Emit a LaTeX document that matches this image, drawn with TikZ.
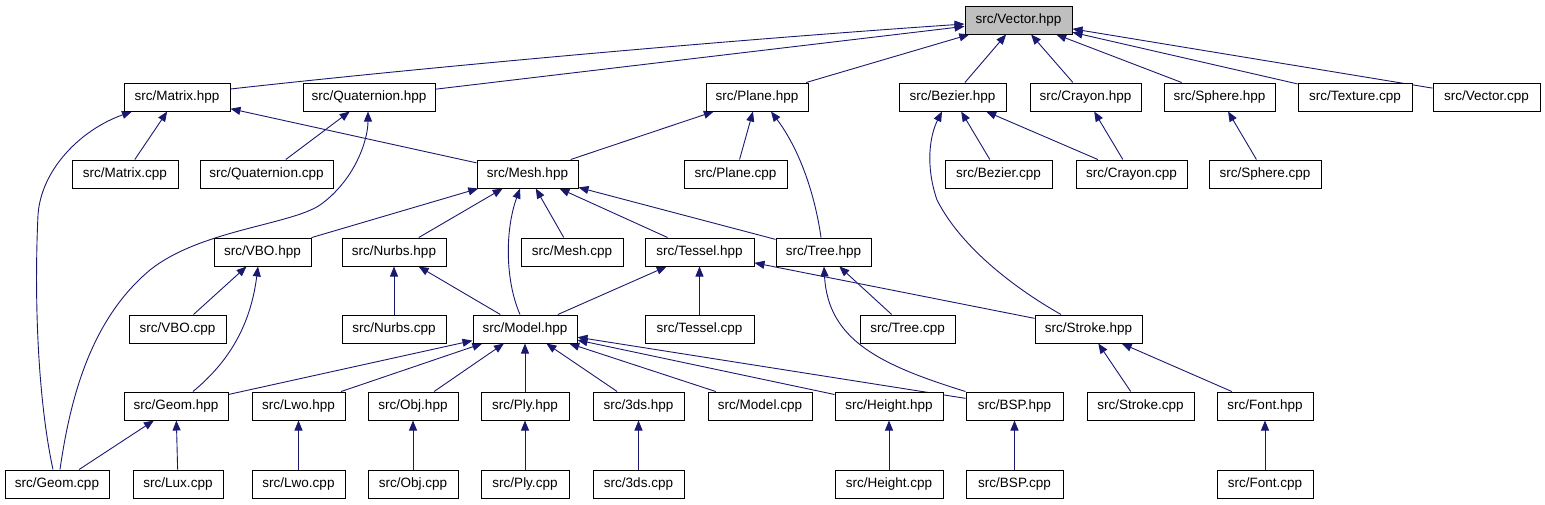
\documentclass[tikz,border=0pt]{standalone}
\usepackage{fontspec}
\setmainfont{Liberation Sans}
\usetikzlibrary{arrows.meta,backgrounds}
\definecolor{edgeblue}{HTML}{191970}
\definecolor{nodegray}{HTML}{BFBFBF}
\begin{document}
\begin{tikzpicture}[x=1pt,y=-1pt,
  box/.style={draw=black, line width=1pt, minimum height=28pt, inner sep=0pt, fill=white,
    font=\fontsize{13.5}{16}\selectfont},
  dep/.style={draw=edgeblue, line width=0.9pt, {Triangle[length=10pt,width=8pt]}-}]
\useasboundingbox (0,0) rectangle (1545,504);
% row 0
\node[box, fill=nodegray, minimum width=107pt] (vechpp) at (1018.5,20) {src/Vector.hpp};
% row 1
\node[box, minimum width=106pt] (matrixhpp) at (177,97) {src/Matrix.hpp};
\node[box, minimum width=132pt] (quathpp) at (369,97) {src/Quaternion.hpp};
\node[box, minimum width=102pt] (planehpp) at (757,97) {src/Plane.hpp};
\node[box, minimum width=107pt] (bezierhpp) at (952.5,97) {src/Bezier.hpp};
\node[box, minimum width=111pt] (crayonhpp) at (1085.5,97) {src/Crayon.hpp};
\node[box, minimum width=111pt] (spherehpp) at (1219.5,97) {src/Sphere.hpp};
\node[box, minimum width=114pt] (texturecpp) at (1355,97) {src/Texture.cpp};
\node[box, minimum width=107pt] (vectorcpp) at (1486.5,97) {src/Vector.cpp};
% row 2
\node[box, minimum width=106pt] (matrixcpp) at (125,174) {src/Matrix.cpp};
\node[box, minimum width=133pt] (quatcpp) at (266.5,174) {src/Quaternion.cpp};
\node[box, minimum width=101pt] (meshhpp) at (527.5,174) {src/Mesh.hpp};
\node[box, minimum width=103pt] (planecpp) at (735.5,174) {src/Plane.cpp};
\node[box, minimum width=107pt] (beziercpp) at (998.5,174) {src/Bezier.cpp};
\node[box, minimum width=111pt] (crayoncpp) at (1131.5,174) {src/Crayon.cpp};
\node[box, minimum width=112pt] (spherecpp) at (1265,174) {src/Sphere.cpp};
% row 3
\node[box, minimum width=97pt] (vbohpp) at (262.5,252) {src/VBO.hpp};
\node[box, minimum width=104pt] (nurbshpp) at (394,252) {src/Nurbs.hpp};
\node[box, minimum width=102pt] (meshcpp) at (572,252) {src/Mesh.cpp};
\node[box, minimum width=109pt] (tesselhpp) at (699.5,252) {src/Tessel.hpp};
\node[box, minimum width=95pt] (treehpp) at (823.5,252) {src/Tree.hpp};
% row 4
\node[box, minimum width=97pt] (vbocpp) at (177.5,329) {src/VBO.cpp};
\node[box, minimum width=104pt] (nurbscpp) at (394,329) {src/Nurbs.cpp};
\node[box, minimum width=104pt] (modelhpp) at (525,329) {src/Model.hpp};
\node[box, minimum width=109pt] (tesselcpp) at (699.5,329) {src/Tessel.cpp};
\node[box, minimum width=95pt] (treecpp) at (907.5,329) {src/Tree.cpp};
\node[box, minimum width=107pt] (strokehpp) at (1088.5,329) {src/Stroke.hpp};
% row 5
\node[box, minimum width=104pt] (geomhpp) at (176,406) {src/Geom.hpp};
\node[box, minimum width=93pt] (lwohpp) at (298.5,406) {src/Lwo.hpp};
\node[box, minimum width=90pt] (objhpp) at (413,406) {src/Obj.hpp};
\node[box, minimum width=88pt] (plyhpp) at (525,406) {src/Ply.hpp};
\node[box, minimum width=91pt] (tdshpp) at (638.5,406) {src/3ds.hpp};
\node[box, minimum width=104pt] (modelcpp) at (760,406) {src/Model.cpp};
\node[box, minimum width=108pt] (heighthpp) at (889,406) {src/Height.hpp};
\node[box, minimum width=97pt] (bsphpp) at (1014.5,406) {src/BSP.hpp};
\node[box, minimum width=107pt] (strokecpp) at (1140.5,406) {src/Stroke.cpp};
\node[box, minimum width=96pt] (fonthpp) at (1265,406) {src/Font.hpp};
% row 6
\node[box, minimum width=104pt] (geomcpp) at (57,484) {src/Geom.cpp};
\node[box, minimum width=90pt] (luxcpp) at (178,484) {src/Lux.cpp};
\node[box, minimum width=93pt] (lwocpp) at (298.5,484) {src/Lwo.cpp};
\node[box, minimum width=90pt] (objcpp) at (413,484) {src/Obj.cpp};
\node[box, minimum width=88pt] (plycpp) at (525,484) {src/Ply.cpp};
\node[box, minimum width=91pt] (tdscpp) at (638.5,484) {src/3ds.cpp};
\node[box, minimum width=108pt] (heightcpp) at (889,484) {src/Height.cpp};
\node[box, minimum width=97pt] (bspcpp) at (1014.5,484) {src/BSP.cpp};
\node[box, minimum width=96pt] (fontcpp) at (1265,484) {src/Font.cpp};

\begin{scope}[on background layer]
% into Vector.hpp
\draw[dep] ([yshift=-4pt]vechpp.west) .. controls (700,42) and (400,70) .. ([yshift=8pt]matrixhpp.east);
\draw[dep] (vechpp) -- (quathpp);
\draw[dep] (vechpp) -- (planehpp);
\draw[dep] (vechpp) -- (bezierhpp);
\draw[dep] (vechpp) -- (crayonhpp);
\draw[dep] (vechpp) -- (spherehpp);
\draw[dep] (vechpp) -- (texturecpp);
\draw[dep] (vechpp) -- (vectorcpp);
% into Matrix.hpp
\draw[dep] (matrixhpp) -- (matrixcpp);
\draw[dep] (matrixhpp) -- (meshhpp);
\draw[dep] ([xshift=-45pt]matrixhpp.south) .. controls (80,130) and (41,170) .. (38,215)
  .. controls (34,300) and (38,400) .. ([xshift=-4pt]geomcpp.north);
% into Quaternion.hpp
\draw[dep] (quathpp) -- (quatcpp);
\draw[dep] ([xshift=-1pt]quathpp.south) .. controls (368,140) and (355,180) .. (320,205)
  .. controls (290,225) and (200,230) .. (150,270)
  .. controls (90,320) and (70,400) .. ([xshift=3pt]geomcpp.north);
% into Plane.hpp
\draw[dep] (planehpp) -- (meshhpp);
\draw[dep] (planehpp) -- (planecpp);
\draw[dep] ([xshift=14pt]planehpp.south) .. controls (800,150) and (815,195) .. ([xshift=-2.5pt]treehpp.north);
% into Bezier.hpp
\draw[dep] (bezierhpp) -- (beziercpp);
\draw[dep] (bezierhpp) -- (crayoncpp);
\draw[dep] ([xshift=-10.5pt]bezierhpp.south) .. controls (930,135) and (925,165) .. (937,200)
  .. controls (965,255) and (1030,297) .. ([xshift=-27.5pt]strokehpp.north);
% Crayon, Sphere
\draw[dep] (crayonhpp) -- (crayoncpp);
\draw[dep] (spherehpp) -- (spherecpp);
% into Mesh.hpp
\draw[dep] (meshhpp) -- (vbohpp);
\draw[dep] (meshhpp) -- (nurbshpp);
\draw[dep] ([xshift=-7.5pt]meshhpp.south) .. controls (505,230) and (505,280) .. ([xshift=-5pt]modelhpp.north);
\draw[dep] (meshhpp) -- (meshcpp);
\draw[dep] (meshhpp) -- (tesselhpp);
\draw[dep] (meshhpp) -- (treehpp);
% into VBO.hpp
\draw[dep] (vbohpp) -- (vbocpp);
\draw[dep] ([xshift=-4.5pt]vbohpp.south) .. controls (250,330) and (225,365) .. ([xshift=17pt]geomhpp.north);
% into Nurbs.hpp
\draw[dep] (nurbshpp) -- (nurbscpp);
\draw[dep] (nurbshpp) -- (modelhpp);
% into Tessel.hpp
\draw[dep] (tesselhpp) -- (modelhpp);
\draw[dep] (tesselhpp) -- (tesselcpp);
\draw[dep] (tesselhpp) -- (strokehpp);
% into Tree.hpp
\draw[dep] (treehpp) -- (treecpp);
\draw[dep] ([xshift=0.5pt]treehpp.south) .. controls (828,340) and (880,365) .. (bsphpp.north west);
% into Model.hpp
\draw[dep] (modelhpp) -- (geomhpp);
\draw[dep] (modelhpp) -- (lwohpp);
\draw[dep] (modelhpp) -- (objhpp);
\draw[dep] (modelhpp) -- (plyhpp);
\draw[dep] (modelhpp) -- (tdshpp);
\draw[dep] (modelhpp) -- (modelcpp);
\draw[dep] (modelhpp) -- (heighthpp);
\draw[dep] (modelhpp) -- (bsphpp);
% into Stroke.hpp
\draw[dep] (strokehpp) -- (strokecpp);
\draw[dep] (strokehpp) -- (fonthpp);
% bottom row
\draw[dep] (geomhpp) -- (geomcpp);
\draw[dep] (geomhpp) -- (luxcpp);
\draw[dep] (lwohpp) -- (lwocpp);
\draw[dep] (objhpp) -- (objcpp);
\draw[dep] (plyhpp) -- (plycpp);
\draw[dep] (tdshpp) -- (tdscpp);
\draw[dep] (heighthpp) -- (heightcpp);
\draw[dep] (bsphpp) -- (bspcpp);
\draw[dep] (fonthpp) -- (fontcpp);
\end{scope}
\end{tikzpicture}
\end{document}
